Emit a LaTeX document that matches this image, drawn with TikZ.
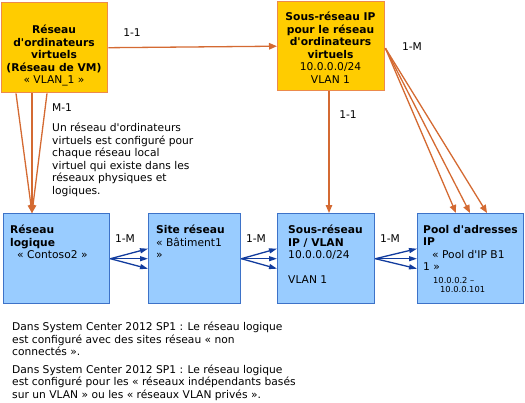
\documentclass[tikz,border=0pt]{standalone}
\usepackage{fontspec}
\setmainfont[Ligatures=TeXOff]{DejaVu Sans}
\usetikzlibrary{positioning,arrows.meta}
\definecolor{vmfill}{HTML}{FFCC00}
\definecolor{vmedge}{HTML}{EC8A4C}
\definecolor{vmline}{HTML}{D46A32}
\definecolor{netfill}{HTML}{99CCFF}
\definecolor{netedge}{HTML}{3D72C8}
\definecolor{netline}{HTML}{123C9E}
\tikzset{
  vmbox/.style={draw=vmedge, fill=vmfill, line width=1.4pt, inner sep=0pt, anchor=north west},
  netbox/.style={draw=netedge, fill=netfill, line width=1.4pt, inner sep=0pt, anchor=north west},
  boxtext/.style={font=\fontsize{10.7}{12.5}\selectfont, inner sep=0pt},
  card/.style={font=\fontsize{10.7}{12.5}\selectfont, inner sep=0pt},
  vmarrow/.style={draw=vmline, line width=1.3pt, -{Triangle[length=8pt,width=6.5pt]}},
  netarrow/.style={draw=netline, line width=1.3pt, -{Triangle[length=8pt,width=5pt]}}
}
\begin{document}
\begin{tikzpicture}[x=1pt,y=-1pt]
  \useasboundingbox (0,0) rectangle (525,402);
  % les boites du haut
  \node[vmbox, minimum width=106, minimum height=90] (vmnet) at (1,2) {};
  \node[vmbox, minimum width=107, minimum height=89] (vmsub) at (277,1) {};
  \node[boxtext, align=center, anchor=north] (vmnettxt) at (54,25)
    {\textbf{Réseau}\\\textbf{d'ordinateurs}\\\textbf{virtuels}\\\textbf{(Réseau de VM)}\\« VLAN\_1 »};
  \node[boxtext, align=center, anchor=north] (vmsubtxt) at (330.5,12)
    {\textbf{Sous-réseau IP}\\\textbf{pour le réseau}\\\textbf{d'ordinateurs}\\\textbf{virtuels}\\10.0.0.0/24\\VLAN 1};
  % les boites du bas
  \node[netbox, minimum width=106, minimum height=90] (lognet) at (3,213) {};
  \node[netbox, minimum width=92, minimum height=90] (site) at (148,213) {};
  \node[netbox, minimum width=97, minimum height=90] (ipvlan) at (277,213) {};
  \node[netbox, minimum width=106, minimum height=90] (pool) at (417,213) {};
  \node[boxtext, align=left, anchor=north west] (lognettxt) at (10,225)
    {\textbf{Réseau}\\\textbf{logique}\\\hspace*{7pt}« Contoso2 »};
  \node[boxtext, align=left, anchor=north west] (sitetxt) at (156,225)
    {\textbf{Site réseau}\\« Bâtiment1\\»};
  \node[boxtext, align=left, anchor=north west] (ipvlantxt) at (288,225)
    {\textbf{Sous-réseau}\\\textbf{IP / VLAN}\\10.0.0.0/24\\[12.5pt]VLAN 1};
  \node[boxtext, align=left, anchor=north west] (pooltxt) at (423,225)
    {\textbf{Pool d'adresses}\\\textbf{IP}\\\hspace*{9pt}« Pool d'IP B1\\1 »};
  \node[font=\fontsize{8.3}{9.5}\selectfont, inner sep=0pt, align=left, anchor=north west] (rangetxt) at (433,277)
    {10.0.0.2 –\\\hspace*{7pt}10.0.0.101};
  % liaisons orange
  \draw[vmarrow] (vmnet.east) -- (vmsub.west);
  \foreach \dx in {15,31,46}
    \draw[vmarrow] ([xshift=\dx pt]vmnet.south west) -- ([xshift=29pt]lognet.north west);
  \draw[vmarrow] ([xshift=52pt]vmsub.south west) -- ([xshift=52pt]ipvlan.north west);
  \foreach \dx in {39,53,70}
    \draw[vmarrow] ([yshift=-2pt]vmsub.east) -- ([xshift=\dx pt]pool.north west);
  % liaisons bleues
  \foreach \a/\b in {lognet/site,site/ipvlan,ipvlan/pool}{
    \draw[netarrow] (\a.east) -- ([yshift=10pt]\b.west);
    \draw[netarrow] (\a.east) -- (\b.west);
    \draw[netarrow] (\a.east) -- ([yshift=-10pt]\b.west);
  }
  % cardinalites
  \node[card] (c11a) at (132,33) {1-1};
  \node[card] (cm1) at (62,108) {M-1};
  \node[card] (c11b) at (348,115) {1-1};
  \node[card] (c1ma) at (412,47) {1-M};
  \node[card] (c1mb) at (125,239) {1-M};
  \node[card] (c1mc) at (256,239) {1-M};
  \node[card] (c1md) at (390,239) {1-M};
  % notes
  \node[boxtext, align=left, anchor=north west] (vmnote) at (52,123)
    {Un réseau d'ordinateurs\\virtuels est configuré pour\\chaque réseau local\\virtuel qui existe dans les\\réseaux physiques et\\logiques.};
  \node[boxtext, align=left, anchor=north west] (sp1note) at (12,322)
    {Dans System Center 2012 SP1 : Le réseau logique\\est configuré avec des sites réseau « non\\connectés ».\\[5pt]Dans System Center 2012 SP1 : Le réseau logique\\est configuré pour les « réseaux indépendants basés\\sur un VLAN » ou les « réseaux VLAN privés ».};
\end{tikzpicture}
\end{document}
